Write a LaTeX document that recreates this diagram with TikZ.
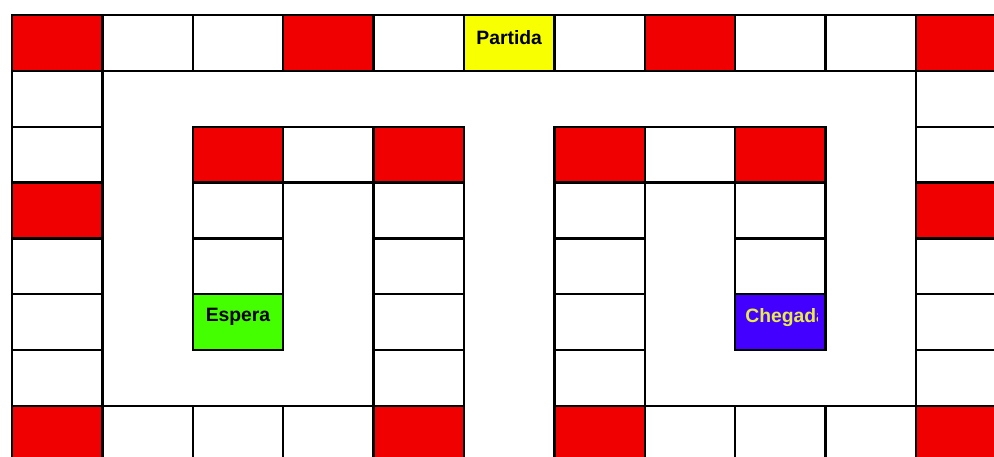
\documentclass[tikz,border=0pt]{standalone}
\usepackage{fontspec}
\setmainfont{Liberation Sans}

\definecolor{vermelho}{RGB}{240,0,0}
\definecolor{amarelo}{RGB}{248,255,0}
\definecolor{verde}{RGB}{68,255,0}
\definecolor{azul}{RGB}{68,0,255}
\definecolor{letraamarela}{RGB}{232,236,70}

\tikzset{
  casa/.style={draw=black, line width=1.35pt, fill=white, inner sep=0pt,
    minimum width=1.808cm, minimum height=1.1172cm},
  perigo/.style={casa, fill=vermelho},
  rotulo/.style={font=\fontsize{11}{13}\selectfont\bfseries, inner sep=0pt},
}

\begin{document}
\begin{tikzpicture}[x=1.808cm, y=-1.1172cm]
  % --- Board: 11 columns x 8 rows, (0,0) is the top-left corner of the track ---
  \def\xmin{-0.1327}\def\xmax{10.8628}
  \def\ymin{-0.2685}\def\ymax{7.8948}

  % Page size, the last column and row are cut off
  \useasboundingbox (\xmin,\ymin) rectangle (\xmax,\ymax);
  \clip (\xmin,\ymin) rectangle (\xmax,\ymax);

  % White squares (column/row)
  \foreach \c/\r in {1/0,2/0,4/0,6/0,8/0,9/0,
                     0/1,0/2,0/4,0/5,0/6,10/1,10/2,10/4,10/5,10/6,
                     1/7,2/7,3/7,7/7,8/7,9/7,
                     3/2,2/3,2/4,4/3,4/4,4/5,4/6,
                     7/2,6/3,6/4,6/5,6/6,8/3,8/4}
    \node[casa] (c-\c-\r) at (\c+0.5,\r+0.5) {};

  % Red squares
  \foreach \c/\r in {0/0,3/0,7/0,10/0,0/3,10/3,0/7,4/7,6/7,10/7,
                     2/2,4/2,6/2,8/2}
    \node[perigo] (c-\c-\r) at (\c+0.5,\r+0.5) {};

  % Start, waiting and finish squares
  \node[casa, fill=amarelo] (c-5-0) at (5.5,0.5) {};
  \node[rotulo] (partida) at ([yshift=2.8pt]c-5-0.center) {Partida};

  \node[casa, fill=verde] (c-2-5) at (2.5,5.5) {};
  \node[rotulo] (espera) at ([yshift=2.8pt]c-2-5.center) {Espera};

  \node[casa, fill=azul] (c-8-5) at (8.5,5.5) {};
  \begin{scope}
    \clip (8.097,5) rectangle (8.905,6);
    \node[rotulo, text=letraamarela, anchor=west] (chegada)
      at ([yshift=2.8pt]8.108,5.5) {Chegada};
  \end{scope}
\end{tikzpicture}
\end{document}
